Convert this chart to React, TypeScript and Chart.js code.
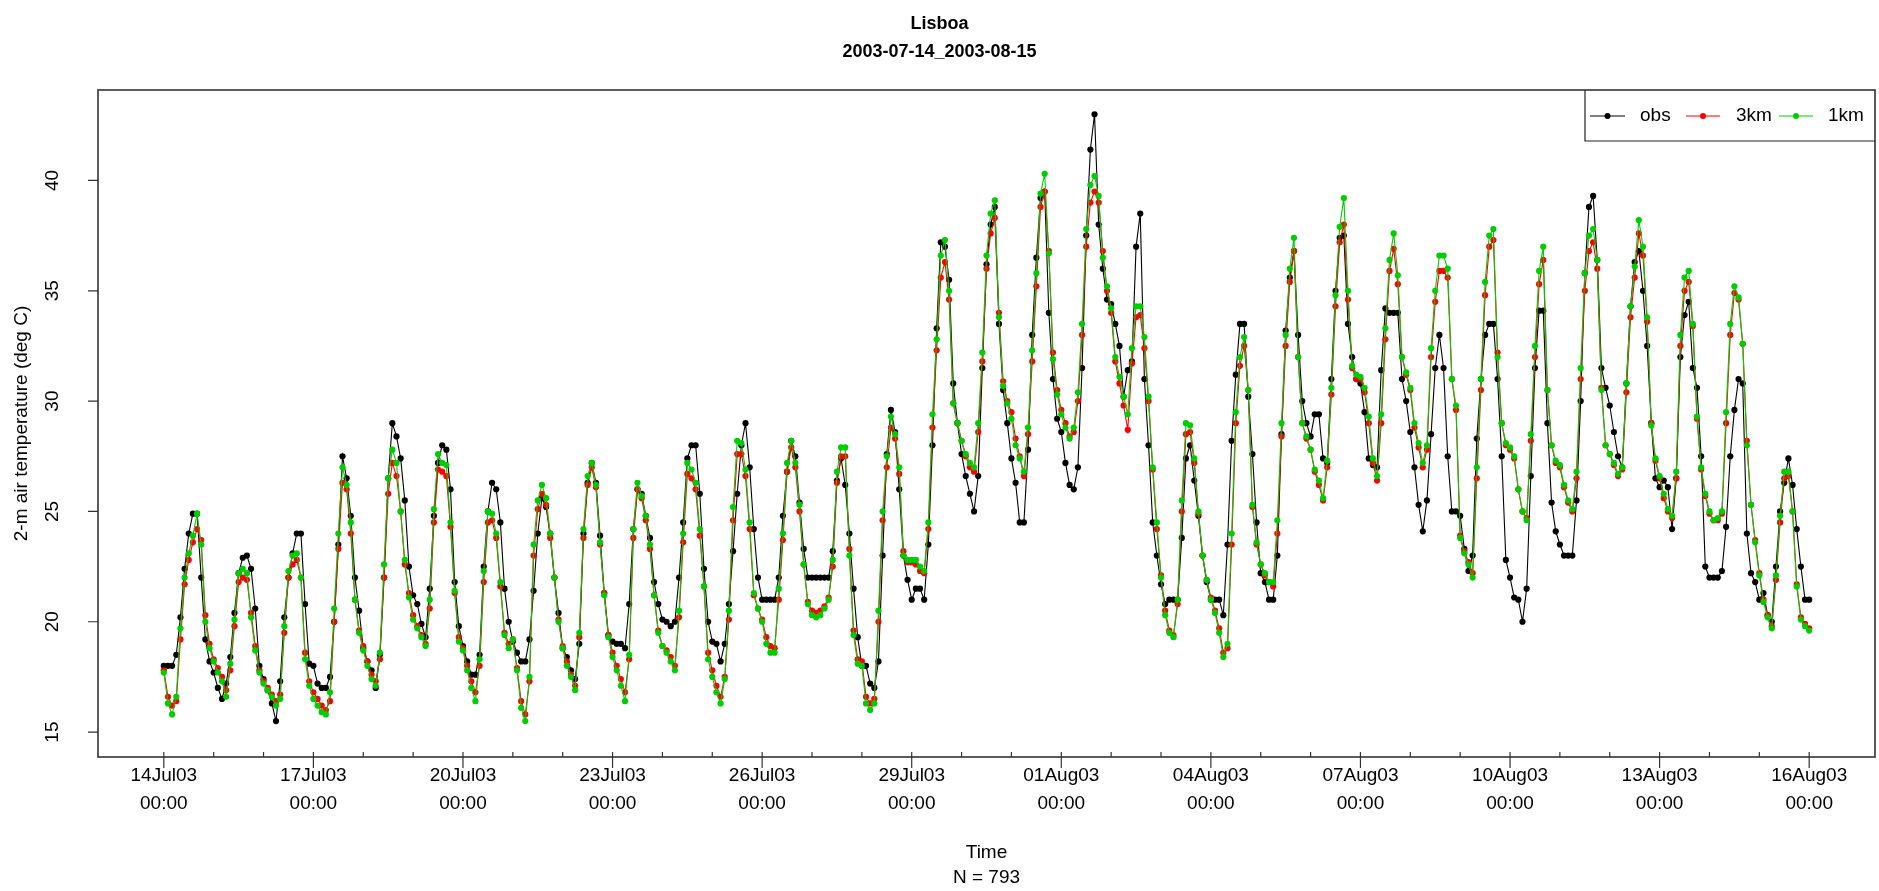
import React, { useEffect, useRef } from "react";
import { Chart, registerables } from "chart.js";

Chart.register(...registerables);

const TITLE = "Lisboa";
const SUBTITLE = "2003-07-14_2003-08-15";
const Y_TITLE = "2-m air temperature (deg C)";
const X_TITLE = "Time";
const N_NOTE = "N = 793";

// values are sampled every STEP_HOURS hours starting 14Jul03 00:00
const STEP_HOURS = 2;

const MAJOR_TICK_HOURS = [0, 72, 144, 216, 288, 360, 432, 504, 576, 648, 720, 792];
const MAJOR_TICK_DATES = ["14Jul03", "17Jul03", "20Jul03", "23Jul03", "26Jul03", "29Jul03", "01Aug03", "04Aug03", "07Aug03", "10Aug03", "13Aug03", "16Aug03"];
const MAJOR_TICK_TIMES = ["00:00", "00:00", "00:00", "00:00", "00:00", "00:00", "00:00", "00:00", "00:00", "00:00", "00:00", "00:00"];
const MINOR_TICK_HOURS = [0, 24, 48, 72, 96, 120, 144, 168, 192, 216, 240, 264, 288, 312, 336, 360, 384, 408, 432, 456, 480, 504, 528, 552, 576, 600, 624, 648, 672, 696, 720, 744, 768, 792];
const Y_TICKS = [15, 20, 25, 30, 35, 40];

const SERIES_NAMES = ["obs", "3km", "1km"];
const SERIES_COLORS = ["#000000", "#FF0000", "#00CD00"];

const OBS = [
  18, 18, 18, 18.5, 20.2, 22.4, 24, 24.9, 24.9, 22, 19.2, 18.2,
  17.7, 17, 16.5, 17.2, 18.4, 20.4, 22.2, 22.9, 23, 22.4, 20.6, 18,
  17.4, 16.9, 16.3, 15.5, 17.3, 20.2, 22, 23.1, 24, 24, 20.8, 18.1,
  18, 17.2, 17, 17, 17.5, 20, 23.5, 27.5, 26.5, 24.8, 22, 20.5,
  18.8, 18.2, 17.8, 17, 18.5, 22, 26.5, 29, 28.4, 27.4, 25.5, 22.5,
  21.2, 20.8, 19.9, 19.3, 21.5, 24.8, 27.2, 28, 27.8, 26, 21.8, 19.8,
  18.9, 18.2, 17.6, 17.6, 18.5, 22.5, 25, 26.3, 26, 24.5, 21.5, 20,
  19.1, 18.6, 18.2, 18.2, 19.2, 21.4, 24, 25.6, 25.2, 24, 22, 20.4,
  18.8, 18.4, 17.8, 17.4, 19, 24, 26.3, 27.2, 26.3, 23.9, 21.3, 19.4,
  19.1, 19, 19, 18.8, 20.8, 24.2, 26, 25.8, 24.8, 23.8, 21.8, 20.8,
  20.1, 20, 19.8, 20, 22, 24.5, 27.4, 28, 28, 25.8, 22.4, 20,
  19.1, 19, 18.2, 19, 20.8, 23.2, 25.8, 28, 29, 27, 24.2, 22,
  21, 21, 21, 21, 22, 24.8, 26.8, 28.2, 27.5, 25.4, 23.3, 22,
  22, 22, 22, 22, 22, 23.2, 26.4, 27.4, 26.2, 24, 21.5, 19.3,
  18, 18, 17.2, 17, 18.2, 23, 27.6, 29.6, 28.6, 26, 23, 21.9,
  21, 21.5, 21.5, 21, 23.5, 28, 33.3, 37.2, 37, 35.5, 30.8, 29,
  27.6, 26.6, 25.8, 25, 26.6, 31.5, 36.2, 38, 38.8, 33.5, 30.5, 29,
  27.4, 26.3, 24.5, 24.5, 27.8, 33, 36.5, 39.2, 39.5, 34, 31, 29.2,
  28.6, 27.2, 26.2, 26, 27, 31.5, 37.5, 41.4, 43, 38, 36, 34.6,
  34.4, 33.5, 32.5, 30.2, 31.4, 31.8, 37, 38.5, 31, 28, 24.5, 23,
  21.7, 20.8, 21, 21, 21, 23.8, 27.4, 28, 26.4, 24.8, 23, 21.8,
  21, 21, 21, 20.3, 23.5, 28.2, 31.2, 33.5, 33.5, 30.2, 27.6, 24.5,
  22.2, 21.8, 21, 21, 23, 28.5, 33.2, 35.6, 36.8, 33, 30, 29,
  28.4, 29.4, 29.4, 27.4, 27.2, 31, 35, 37.4, 37.5, 33.5, 32, 31,
  30.8, 29.5, 27.4, 27.1, 27, 31.4, 34.2, 34, 34, 34, 31, 30,
  28.6, 27, 25.3, 24.1, 25.5, 28.5, 31.5, 33, 31.5, 27.5, 25, 25,
  24.8, 23.3, 22.3, 23, 28.3, 31, 33, 33.5, 33.5, 31, 27.5, 22.8,
  22, 21.1, 21, 20, 21.5, 26.6, 31.5, 34.1, 34.1, 29, 25.4, 24.1,
  23.5, 23, 23, 23, 25.5, 30, 35.8, 38.8, 39.3, 36.4, 31.5, 30.6,
  29.8, 28.6, 27.5, 27, 30.8, 34.3, 36.3, 36.8, 35, 32.5, 29, 26.5,
  26.1, 26.4, 26.1, 24.2, 26.5, 32, 33.9, 34.5, 31.5, 30.6, 27.5, 22.5,
  22, 22, 22, 22.3, 24.3, 27.5, 29.6, 31, 30.8, 24, 22.2, 21.8,
  21, 21.3, 20.3, 20, 22.5, 25, 26.3, 27.4, 26.2, 24.2, 22.5, 21,
  21,
];

const KM3 = [
  17.8, 16.6, 16.2, 16.4, 19.2, 21.7, 22.8, 23.6, 24.2, 23.7, 20.3, 19,
  18.3, 17.9, 17.5, 16.9, 17.8, 19.8, 21.8, 22, 21.9, 20.4, 18.9, 17.8,
  17.3, 17, 16.7, 16.4, 16.7, 19.5, 22, 22.6, 22.8, 22, 18.6, 17.3,
  16.8, 16.5, 16.2, 16, 16.4, 20, 23.3, 26.3, 26, 24, 21, 19.6,
  18.9, 18.2, 17.6, 17.3, 18.3, 22, 25.8, 27.2, 26.6, 25, 22.6, 21.3,
  20.3, 19.8, 19.4, 19, 20.6, 24.5, 26.9, 26.8, 26.6, 24.3, 21.3, 19.3,
  18.8, 18, 17.3, 16.8, 18, 21.8, 24.5, 24.6, 23.8, 21.6, 19.5, 19,
  19.2, 17.9, 16.4, 15.8, 17.3, 23, 25.1, 25.8, 25.3, 23.8, 22, 20.1,
  18.9, 18.2, 17.6, 17.1, 19.3, 23.8, 26.2, 27, 26.1, 23.5, 21.3, 19.4,
  18.6, 18, 17.4, 16.8, 18.3, 23.8, 26, 25.6, 24.6, 23.3, 21.2, 19.6,
  18.9, 18.7, 18.4, 18, 20.2, 23.6, 26.7, 26.5, 26, 23.9, 21.6, 18.6,
  17.8, 17.1, 16.6, 17.5, 20.1, 24.6, 27.6, 27.6, 26.6, 24.2, 21.2, 20.6,
  20.1, 19.3, 18.9, 18.8, 21, 23.7, 26.8, 27.9, 27, 25, 22.6, 20.9,
  20.5, 20.4, 20.5, 20.7, 21.1, 22.5, 26.3, 27.5, 27.5, 23.3, 19.6, 18.3,
  18.2, 16.6, 16.3, 16.5, 20, 24.6, 27, 28.8, 28.3, 26.7, 23.2, 22.7,
  22.7, 22.6, 22.3, 22.2, 24.2, 28.8, 32.3, 35.6, 36.3, 34.6, 29.9, 29,
  28.2, 27.5, 27, 26.8, 28.6, 31.8, 36, 37.6, 38.3, 34, 30.9, 30,
  29.5, 28.3, 27.5, 26.6, 28.5, 31.8, 35.2, 38.8, 39.5, 36.8, 32.2, 30.5,
  29.6, 29, 28.4, 28.6, 30, 33, 37, 39, 39.5, 39, 36.8, 35,
  34, 31.8, 30.8, 29.8, 28.7, 31.7, 33.8, 33.9, 32.4, 30, 26.9, 24.2,
  22.1, 20.5, 19.6, 19.4, 20.8, 25, 28.5, 28.6, 27.2, 24.9, 23, 21.9,
  21.1, 20.5, 19.7, 18.6, 18.8, 23.5, 29, 31.6, 32.5, 30.5, 25.2, 23.5,
  22.6, 22.1, 21.8, 21.6, 24, 28.4, 32.5, 35.4, 36.8, 32, 29, 28.3,
  27.8, 26.8, 26.2, 25.5, 27, 30.3, 34.3, 37.2, 38, 34.6, 31.5, 31,
  31, 30.4, 29, 27.2, 26.4, 29, 32.8, 35.9, 36.9, 35.3, 32, 31.2,
  30.5, 28.8, 27.9, 27, 27.8, 32, 34.5, 35.9, 35.9, 35.6, 31, 29.6,
  23.9, 23.2, 22.7, 22.2, 26.5, 30.5, 34.8, 37, 37.3, 32.2, 29, 28,
  27.8, 27.4, 26, 25, 24.7, 28.2, 32, 35.3, 36.4, 30.5, 28, 27.2,
  27, 26.1, 25.4, 25, 26.5, 31, 35, 36.8, 37.2, 36, 30.6, 28,
  27.6, 27.1, 26.6, 26.9, 30.4, 33.8, 35.6, 37.6, 36.6, 33.6, 29, 27.3,
  26.5, 25.6, 25, 24.7, 26.5, 32.5, 35, 35.4, 33.4, 29.2, 26.9, 25.7,
  24.9, 24.6, 24.6, 24.9, 29, 33, 34.9, 34.6, 32.6, 28.2, 25.3, 23.7,
  22.2, 21, 20.3, 19.8, 21.9, 24.5, 26.5, 26.6, 25, 21.7, 20.2, 19.9,
  19.7,
];

const KM1 = [
  17.7, 16.3, 15.8, 16.6, 19.7, 22, 23.1, 23.9, 24.9, 23.5, 20, 18.8,
  18.2, 17.7, 17.3, 16.6, 18.1, 20.1, 22.2, 22.4, 22.2, 20.2, 18.7, 17.7,
  17.2, 16.9, 16.6, 16.2, 16.5, 19.8, 22.3, 23, 23.1, 22, 18.3, 17.1,
  16.5, 16.2, 15.9, 15.8, 16.8, 20.6, 24, 27, 26.2, 24.5, 21, 19.5,
  18.7, 18, 17.4, 17.1, 18.6, 22.6, 26.5, 27.8, 27.2, 25, 22.8, 21.1,
  20.1, 19.7, 19.3, 18.9, 21, 25.1, 27.6, 27.2, 27.1, 24.5, 21.4, 19.1,
  18.7, 17.8, 17, 16.4, 18.3, 22.3, 25, 24.9, 24, 21.8, 19.4, 18.8,
  19.2, 17.8, 16.1, 15.5, 17.5, 23.5, 25.5, 26.2, 25.6, 24, 22, 20,
  18.8, 18, 17.5, 16.9, 19.5, 24.2, 26.6, 27.2, 26.2, 23.6, 21.2, 19.3,
  18.4, 17.8, 17.1, 16.4, 18.5, 24.2, 26.3, 25.7, 24.8, 23.5, 21.2, 19.5,
  18.9, 18.6, 18.2, 17.8, 20.5, 24, 27.2, 26.9, 26.3, 24.2, 21.6, 18.3,
  17.5, 16.8, 16.3, 17.4, 20.5, 25.2, 28.2, 28.1, 26.9, 24.5, 21.3, 20.6,
  20, 19, 18.6, 18.6, 21.5, 24, 27.2, 28.2, 27.2, 25.3, 22.6, 20.8,
  20.3, 20.2, 20.3, 20.6, 21, 22.8, 26.8, 27.9, 27.9, 23, 19.4, 18.1,
  18, 16.3, 16, 16.3, 20.5, 25, 27.5, 29.3, 28.5, 27, 23, 22.8,
  22.8, 22.8, 22.5, 22.3, 24.5, 29.4, 32.8, 36.6, 37.3, 35, 29.9, 29,
  28.2, 27.6, 27.2, 27, 29, 32.2, 36.6, 38.5, 39.1, 33.8, 30.7, 29.9,
  29.2, 28, 27.4, 26.8, 28.8, 32.3, 35.8, 39.4, 40.3, 36.7, 31.9, 30.3,
  29.4, 28.8, 28.3, 28.8, 30.4, 33.5, 37.8, 39.8, 40.2, 39.3, 36.5, 35.2,
  34.2, 32, 31.1, 30.2, 29.4, 32.4, 34.3, 34.3, 32.9, 30.2, 27, 24.5,
  22, 20.3, 19.5, 19.3, 21, 25.5, 29, 28.9, 27.4, 25, 23, 21.9,
  21, 20.4, 19.5, 18.4, 19, 24, 29.5, 32, 32.9, 30.5, 25.3, 23.6,
  22.6, 22.2, 21.8, 21.8, 24.6, 29, 33, 36, 37.4, 32, 29, 28.4,
  27.8, 26.9, 26.4, 25.6, 27.3, 30.6, 34.8, 37.9, 39.2, 35, 31.6, 31.2,
  31.1, 30.6, 29.3, 27.4, 26.6, 29.4, 33.3, 36.4, 37.6, 35.7, 32, 31.3,
  30.6, 29, 28.1, 27.2, 28, 32.4, 35, 36.6, 36.6, 36, 31, 29.8,
  23.8, 23.1, 22.6, 22, 27, 31, 35.4, 37.5, 37.8, 32, 29, 28.1,
  27.9, 27.5, 26, 25, 24.6, 28.5, 32.5, 35.9, 37, 30.5, 28, 27.3,
  27.1, 26.2, 25.5, 25.1, 26.8, 31.5, 35.8, 37.5, 37.8, 36.4, 30.5, 28,
  27.6, 27.2, 26.7, 27, 30.8, 34.3, 36.1, 38.2, 37, 33.8, 28.9, 27.4,
  26.6, 25.8, 25.1, 24.8, 26.8, 33, 35.6, 35.9, 33.5, 29.3, 27, 25.8,
  25, 24.6, 24.7, 25, 29.5, 33.5, 35.2, 34.7, 32.6, 28, 25.3, 23.6,
  22.1, 20.9, 20.2, 19.7, 22.1, 24.8, 26.8, 26.8, 25, 21.6, 20.1, 19.8,
  19.6,
];

const FONT = "'Liberation Sans', Arial, Helvetica, sans-serif";
const W = 1879;
const H = 891;
const PLOT_LEFT = 98;
const PLOT_RIGHT = 1875;
const PLOT_TOP = 90;
const PLOT_BOTTOM = 757;

const toPoints = (vals: number[]) => vals.map((v, i) => ({ x: i * STEP_HOURS, y: v }));

const rPlot = {
  id: "rPlot",
  afterDatasetsDraw(chart: any) {
    const { ctx, chartArea: a } = chart;
    const xs = chart.scales.x;
    const ys = chart.scales.y;
    ctx.save();
    // box
    ctx.strokeStyle = "#333";
    ctx.lineWidth = 1.6;
    ctx.strokeRect(a.left, a.top, a.right - a.left, a.bottom - a.top);
    // ticks
    ctx.lineWidth = 1.2;
    ctx.strokeStyle = "#333";
    ctx.beginPath();
    for (const h of MINOR_TICK_HOURS) {
      const px = xs.getPixelForValue(h);
      ctx.moveTo(px, a.bottom - 5);
      ctx.lineTo(px, a.bottom);
    }
    for (const h of MAJOR_TICK_HOURS) {
      const px = xs.getPixelForValue(h);
      ctx.moveTo(px, a.bottom);
      ctx.lineTo(px, a.bottom + 11);
    }
    for (const v of Y_TICKS) {
      const py = ys.getPixelForValue(v);
      ctx.moveTo(a.left - 10, py);
      ctx.lineTo(a.left, py);
    }
    ctx.stroke();

    ctx.fillStyle = "#000";
    ctx.font = `19px ${FONT}`;
    ctx.textAlign = "center";
    ctx.textBaseline = "middle";
    for (const v of Y_TICKS) {
      const py = ys.getPixelForValue(v);
      ctx.save();
      ctx.translate(53, py);
      ctx.rotate(-Math.PI / 2);
      ctx.fillText(String(v), 0, 0);
      ctx.restore();
    }
    ctx.save();
    ctx.translate(22, (a.top + a.bottom) / 2);
    ctx.rotate(-Math.PI / 2);
    ctx.fillText(Y_TITLE, 0, 0);
    ctx.restore();

    const cx = (a.left + a.right) / 2;
    ctx.fillText(X_TITLE, cx, 853);
    ctx.fillText(N_NOTE, cx, 878);

    ctx.font = `bold 18px ${FONT}`;
    ctx.fillText(TITLE, W / 2, 24);
    ctx.fillText(SUBTITLE, W / 2, 52);

    // legend (horizontal, boxed, top-right)
    const lgLeft = 1585;
    const lgBottom = 141;
    ctx.fillStyle = "#fff";
    ctx.fillRect(lgLeft, a.top + 1, a.right - lgLeft - 1, lgBottom - a.top - 1);
    ctx.strokeStyle = "#222";
    ctx.lineWidth = 1.2;
    ctx.beginPath();
    ctx.moveTo(lgLeft, a.top);
    ctx.lineTo(lgLeft, lgBottom);
    ctx.lineTo(a.right, lgBottom);
    ctx.stroke();
    const segs = [
      [1590, 1625, 1640],
      [1686, 1720, 1736],
      [1779, 1813, 1828],
    ];
    const ly = 116;
    ctx.font = `19px ${FONT}`;
    ctx.textAlign = "left";
    segs.forEach((s, i) => {
      ctx.strokeStyle = SERIES_COLORS[i];
      ctx.fillStyle = SERIES_COLORS[i];
      ctx.lineWidth = 1;
      ctx.beginPath();
      ctx.moveTo(s[0], ly);
      ctx.lineTo(s[1], ly);
      ctx.stroke();
      ctx.beginPath();
      ctx.arc((s[0] + s[1]) / 2, ly, 3, 0, Math.PI * 2);
      ctx.fill();
      ctx.fillStyle = "#000";
      ctx.fillText(SERIES_NAMES[i], s[2], ly);
    });
    ctx.restore();
  },
};

export default function App() {
  const ref = useRef<HTMLCanvasElement | null>(null);
  useEffect(() => {
    if (!ref.current) return;
    const mk = (i: number, vals: number[], order: number) => ({
      label: SERIES_NAMES[i],
      data: toPoints(vals),
      borderColor: SERIES_COLORS[i],
      backgroundColor: SERIES_COLORS[i],
      pointBackgroundColor: SERIES_COLORS[i],
      pointBorderColor: SERIES_COLORS[i],
      pointBorderWidth: 0,
      pointRadius: 3.1,
      pointHoverRadius: 0,
      borderWidth: 1.1,
      tension: 0,
      order,
    });
    const chart = new Chart(ref.current, {
      type: "line",
      data: { datasets: [mk(2, KM1, 1), mk(1, KM3, 2), mk(0, OBS, 3)] as any },
      options: {
        responsive: false,
        animation: false,
        devicePixelRatio: 1,
        events: [],
        layout: { padding: { top: PLOT_TOP, right: W - PLOT_RIGHT, left: 0, bottom: 0 } },
        plugins: { legend: { display: false }, tooltip: { enabled: false }, title: { display: false } },
        scales: {
          x: {
            type: "linear",
            min: -31.68,
            max: 823.68,
            grid: { display: false, drawTicks: false },
            border: { display: false },
            afterBuildTicks: (s: any) => {
              s.ticks = MAJOR_TICK_HOURS.map((v) => ({ value: v }));
            },
            afterFit: (s: any) => {
              s.height = H - PLOT_BOTTOM;
            },
            ticks: {
              autoSkip: false,
              maxRotation: 0,
              minRotation: 0,
              padding: 5,
              color: "#000",
              font: { family: FONT, size: 19, lineHeight: 1.45 },
              callback: (v: any) => {
                const i = MAJOR_TICK_HOURS.indexOf(Number(v));
                return i >= 0 ? [MAJOR_TICK_DATES[i], MAJOR_TICK_TIMES[i]] : "";
              },
            },
          },
          y: {
            type: "linear",
            min: 13.87,
            max: 44.1,
            grid: { display: false },
            border: { display: false },
            ticks: { display: false, stepSize: 5 },
            afterFit: (s: any) => {
              s.width = PLOT_LEFT;
            },
          },
        },
      } as any,
      plugins: [rPlot],
    });
    return () => chart.destroy();
  }, []);
  return (
    <div style={{ position: "absolute", left: 0, top: 0, width: W, height: H, background: "#fff" }}>
      <canvas ref={ref} width={W} height={H} style={{ display: "block", width: W, height: H }} />
    </div>
  );
}
